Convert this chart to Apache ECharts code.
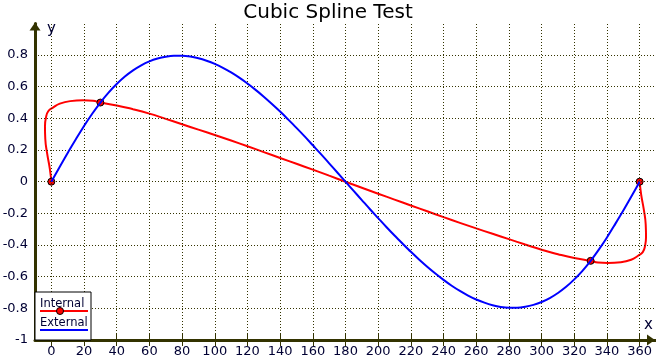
<!DOCTYPE html>
<html>
<head>
<meta charset="utf-8">
<script src="https://cdn.jsdelivr.net/npm/echarts@6/dist/echarts.min.js"></script>
<style>
html,body{margin:0;padding:0;background:#fff;}
#chart{width:656px;height:360px;}
</style>
</head>
<body>
<div id="chart"></div>
<script>
const chartTitle = 'Cubic Spline Test';
const seriesNames = ['Internal', 'External'];
const xTicks = [0, 20, 40, 60, 80, 100, 120, 140, 160, 180, 200, 220, 240, 260, 280, 300, 320, 340, 360];
const yGrid = [-0.8, -0.6, -0.4, -0.2, 0, 0.2, 0.4, 0.6, 0.8];

// control points (knots)
const knotX = [0, 30, 330, 360];
const knotY = [0, 0.5, -0.5, 0];

// External spline, every 5 units of x
const externalX = [0, 5, 10, 15, 20, 25, 30, 35, 40, 45, 50, 55, 60, 65, 70, 75, 80, 85, 90, 95,
  100, 105, 110, 115, 120, 125, 130, 135, 140, 145, 150, 155, 160, 165, 170, 175, 180,
  185, 190, 195, 200, 205, 210, 215, 220, 225, 230, 235, 240, 245, 250, 255, 260, 265, 270, 275,
  280, 285, 290, 295, 300, 305, 310, 315, 320, 325, 330, 335, 340, 345, 350, 355, 360];
const externalY = [0, 0.092, 0.182, 0.268, 0.352, 0.429, 0.5, 0.563, 0.617, 0.664, 0.703, 0.735, 0.76, 0.778, 0.79, 0.796, 0.796, 0.791, 0.78, 0.764,
  0.744, 0.719, 0.69, 0.657, 0.62, 0.58, 0.537, 0.491, 0.443, 0.392, 0.34, 0.286, 0.23, 0.174, 0.116, 0.058, 0,
  -0.058, -0.116, -0.174, -0.23, -0.286, -0.34, -0.392, -0.443, -0.491, -0.537, -0.58, -0.62, -0.657, -0.69, -0.719, -0.744, -0.764, -0.78, -0.791,
  -0.796, -0.796, -0.79, -0.778, -0.76, -0.735, -0.703, -0.664, -0.617, -0.563, -0.5, -0.429, -0.352, -0.268, -0.182, -0.092, 0];

// Internal (parametric) spline
const internalX = [0, -0.9, -2.6, -3.7, -3.9, -3.3, -1.9, 1, 5.2, 11.5, 19.5, 25.5, 30,
  40, 50, 60, 70, 80, 90, 100, 110, 120, 130, 140, 150, 160, 170, 180,
  190, 200, 210, 220, 230, 240, 250, 260, 270, 280, 290, 300, 310, 320, 330,
  334.5, 340.5, 348.5, 354.8, 359, 361.9, 363.3, 363.9, 363.7, 362.6, 360.9, 360];
const internalY = [0, 0.08, 0.18, 0.27, 0.35, 0.405, 0.445, 0.468, 0.493, 0.509, 0.514, 0.511, 0.5,
  0.482, 0.458, 0.43, 0.397, 0.363, 0.329, 0.295, 0.26, 0.224, 0.187, 0.15, 0.113, 0.076, 0.038, 0,
  -0.038, -0.076, -0.113, -0.15, -0.187, -0.224, -0.26, -0.295, -0.329, -0.363, -0.397, -0.43, -0.458, -0.482, -0.5,
  -0.511, -0.514, -0.509, -0.493, -0.468, -0.445, -0.405, -0.35, -0.27, -0.18, -0.08, 0];

const FONT = 'DejaVu Sans, Verdana, sans-serif';
const AXIS_COLOR = '#333300';
const TEXT_COLOR = '#000033';

const chart = echarts.init(document.getElementById('chart'), null, {renderer: 'canvas'});

const option = {
  animation: false,
  backgroundColor: '#ffffff',
  title: {
    text: chartTitle,
    left: 'center',
    top: -2,
    textStyle: {fontSize: 20, fontWeight: 'normal', color: '#000000', fontFamily: FONT}
  },
  grid: {left: 35, right: 0, top: 23.4, bottom: 20, containLabel: false, outerBoundsMode: 'none'},
  xAxis: [{
    type: 'value', min: -10, max: 370, position: 'bottom',
    axisLine: {onZero: false, lineStyle: {color: AXIS_COLOR, width: 3},
      symbol: ['none', 'triangle'], symbolSize: [11, 8], symbolOffset: [0, -5]},
    axisTick: {show: true, customValues: xTicks, length: 6, lineStyle: {color: AXIS_COLOR, width: 1}},
    axisLabel: {customValues: xTicks, color: TEXT_COLOR, fontSize: 13, fontFamily: FONT, margin: 5},
    splitLine: {show: false}
  }, {
    type: 'value', min: -10, max: 370, position: 'bottom',
    axisLine: {show: false, onZero: false},
    axisTick: {show: true, inside: true, customValues: xTicks, length: 6, lineStyle: {color: AXIS_COLOR, width: 1}},
    axisLabel: {show: false},
    splitLine: {show: false}
  }],
  yAxis: {
    type: 'value', min: -1, max: 1, interval: 0.2,
    axisLine: {onZero: false, lineStyle: {color: AXIS_COLOR, width: 3},
      symbol: ['none', 'triangle'], symbolSize: [11, 8], symbolOffset: [0, -3]},
    axisTick: {show: false},
    axisLabel: {color: TEXT_COLOR, fontSize: 13, fontFamily: FONT, margin: 7, showMaxLabel: false,
      formatter: function (v) { return String(Math.round(v * 10) / 10); }},
    splitLine: {show: false}
  },
  series: [
    {
      type: 'line', data: [], z: 1, silent: true,
      markLine: {
        silent: true, animation: false, symbol: ['none', 'none'],
        label: {show: false},
        emphasis: {disabled: true},
        lineStyle: {type: [1, 2], color: AXIS_COLOR, width: 1},
        data: xTicks.map(v => ({xAxis: v})).concat(yGrid.map(v => ({yAxis: v})))
      }
    },
    {
      name: seriesNames[0], type: 'line', z: 3, smooth: 0.5, showSymbol: false,
      data: internalX.map((x, i) => [x, internalY[i]]),
      lineStyle: {color: '#ff0000', width: 2}, itemStyle: {color: '#ff0000'}
    },
    {
      name: seriesNames[0], type: 'scatter', z: 4, symbolSize: 7,
      data: knotX.map((x, i) => [x, knotY[i]]),
      itemStyle: {color: '#ff0000', borderColor: '#000000', borderWidth: 1, opacity: 1}
    },
    {
      name: seriesNames[1], type: 'line', z: 5, smooth: 0.3, showSymbol: false,
      data: externalX.map((x, i) => [x, externalY[i]]),
      lineStyle: {color: '#0000ff', width: 2}, itemStyle: {color: '#0000ff'}
    }
  ],
  graphic: [
    {type: 'text', x: 47, y: 29.5, z: 50, style: {text: 'y', font: '15px ' + FONT, fill: TEXT_COLOR, verticalAlign: 'middle'}},
    {type: 'text', x: 644, y: 325.5, z: 50, style: {text: 'x', font: '15px ' + FONT, fill: TEXT_COLOR, verticalAlign: 'middle'}},
    {type: 'rect', z: 100, shape: {x: 35, y: 292, width: 56, height: 48}, style: {fill: '#ffffff', stroke: '#000000', lineWidth: 1}},
    {type: 'text', x: 40, y: 304, z: 101, style: {text: seriesNames[0], font: '11.5px ' + FONT, fill: TEXT_COLOR, verticalAlign: 'middle'}},
    {type: 'line', z: 101, shape: {x1: 40, y1: 311, x2: 88, y2: 311}, style: {stroke: '#ff0000', lineWidth: 2}},
    {type: 'circle', z: 102, shape: {cx: 60, cy: 311, r: 3.5}, style: {fill: '#ff0000', stroke: '#000000', lineWidth: 1}},
    {type: 'text', x: 40, y: 323.5, z: 101, style: {text: seriesNames[1], font: '11.5px ' + FONT, fill: TEXT_COLOR, verticalAlign: 'middle'}},
    {type: 'line', z: 101, shape: {x1: 40, y1: 330, x2: 88, y2: 330}, style: {stroke: '#0000ff', lineWidth: 2}}
  ]
};
chart.setOption(option);
</script>
</body>
</html>
